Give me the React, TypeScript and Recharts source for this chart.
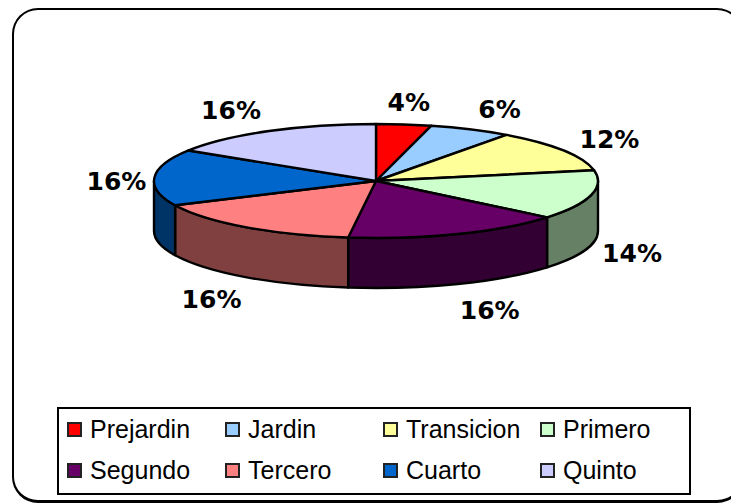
import { Legend, Pie, PieChart } from "recharts";

const LEVELS = ["Prejardin", "Jardin", "Transicion", "Primero", "Segundo", "Tercero", "Cuarto", "Quinto"];
const SHARES = [4, 6, 12, 14, 16, 16, 16, 16];
const TOP_COLORS = ["#FF0000", "#99CCFF", "#FFFF99", "#CCFFCC", "#660066", "#FF8080", "#0066CC", "#CCCCFF"];
const WALL_COLORS = ["#800000", "#4D6680", "#80804D", "#668066", "#330033", "#804040", "#003366", "#666680"];
// label nudges from the slice rim, excel placed these by hand
const LABEL_DX = [5, 29, 46, 41, 32, -34, -38, -38];
const LABEL_DY = [-22, -20, -11, 58, 77, 72, 4, -21];

const SQUASH = 57 / 222;
const DEPTH = 50;
const RAD = Math.PI / 180;

const topData = LEVELS.map((name, i) => ({ name, value: SHARES[i], fill: TOP_COLORS[i] }));
const wallData = LEVELS.map((name, i) => ({ name, value: SHARES[i], fill: WALL_COLORS[i] }));

// point on the squashed rim, angle in recharts degrees
function rim(cx: number, cy: number, r: number, deg: number) {
  return [cx + r * Math.cos(deg * RAD), cy - r * SQUASH * Math.sin(deg * RAD)];
}

function TopSlice(props: any) {
  const { cx, cy, outerRadius: r, startAngle, endAngle, fill } = props;
  const [x0, y0] = rim(cx, cy, r, startAngle);
  const [x1, y1] = rim(cx, cy, r, endAngle);
  const large = Math.abs(endAngle - startAngle) > 180 ? 1 : 0;
  const d = `M${cx},${cy}L${x0},${y0}A${r},${r * SQUASH} 0 ${large} 1 ${x1},${y1}Z`;
  return <path d={d} fill={fill} stroke="#000" strokeWidth={2.4} strokeLinejoin="round" />;
}

function WallSlice(props: any) {
  const { cx, cy, outerRadius: r, startAngle, endAngle, fill } = props;
  // angles run 90 down to -270, only 0 to -180 is the front of the rim
  const from = Math.min(Math.max(startAngle, endAngle), 0);
  const to = Math.max(Math.min(startAngle, endAngle), -180);
  if (from <= to) return null;
  const [x0, y0] = rim(cx, cy, r, from);
  const [x1, y1] = rim(cx, cy, r, to);
  const d =
    `M${x0},${y0}A${r},${r * SQUASH} 0 0 1 ${x1},${y1}` +
    `L${x1},${y1 + DEPTH}A${r},${r * SQUASH} 0 0 0 ${x0},${y0 + DEPTH}Z`;
  return <path d={d} fill={fill} stroke="#000" strokeWidth={2.4} strokeLinejoin="round" />;
}

function PercentLabel(props: any) {
  const { cx, cy, outerRadius: r, midAngle, index, value } = props;
  const [x, y] = rim(cx, cy, r, midAngle);
  return (
    <text
      x={x + LABEL_DX[index]}
      y={y + LABEL_DY[index]}
      textAnchor="middle"
      dominantBaseline="central"
      fontFamily="DejaVu Sans"
      fontWeight="bold"
      fontSize={25}
      fill="#000"
    >
      {value}%
    </text>
  );
}

function LegendBox({ payload }: any) {
  const items = (payload ?? []).filter((entry: any) => entry.type !== "none");
  return (
    <div
      style={{
        boxSizing: "border-box",
        width: 634,
        height: 88,
        border: "2px solid #000",
        background: "#fff",
        display: "grid",
        gridTemplateColumns: "158px 158px 157px 150px",
        gridAutoRows: "41px",
        padding: "0 0 0 8px",
        fontFamily: "Liberation Sans",
        fontSize: 25,
        color: "#000",
      }}
    >
      {items.map((entry: any) => (
        <div key={entry.value} style={{ display: "flex", alignItems: "center" }}>
          <span
            style={{
              boxSizing: "border-box",
              width: 15,
              height: 15,
              marginRight: 8,
              border: "2px solid #222",
              background: entry.color,
            }}
          />
          {entry.value}
        </div>
      ))}
    </div>
  );
}

export default function App() {
  return (
    <div style={{ position: "absolute", left: 0, top: 0, width: 731, height: 504, background: "#fff", overflow: "hidden" }}>
      <div
        style={{
          position: "absolute",
          left: 12,
          top: 8,
          width: 731,
          height: 495,
          boxSizing: "border-box",
          borderStyle: "solid",
          borderColor: "#000",
          borderWidth: "2px 2px 3px 2px",
          borderRadius: 26,
        }}
      />
      <PieChart
        width={731}
        height={504}
        margin={{ top: 0, right: 0, bottom: 0, left: 0 }}
        style={{ position: "absolute", left: 0, top: 0 }}
      >
        <Pie
          data={wallData}
          dataKey="value"
          nameKey="name"
          cx={376}
          cy={181}
          outerRadius={222}
          startAngle={90}
          endAngle={-270}
          legendType="none"
          shape={WallSlice}
          isAnimationActive={false}
        />
        <Pie
          data={topData}
          dataKey="value"
          nameKey="name"
          cx={376}
          cy={181}
          outerRadius={222}
          startAngle={90}
          endAngle={-270}
          shape={TopSlice}
          label={PercentLabel}
          labelLine={false}
          isAnimationActive={false}
        />
        <Legend
          content={<LegendBox />}
          layout="horizontal"
          itemSorter={null}
          wrapperStyle={{ left: 57, top: 407, width: 634, height: 88 }}
        />
      </PieChart>
    </div>
  );
}
